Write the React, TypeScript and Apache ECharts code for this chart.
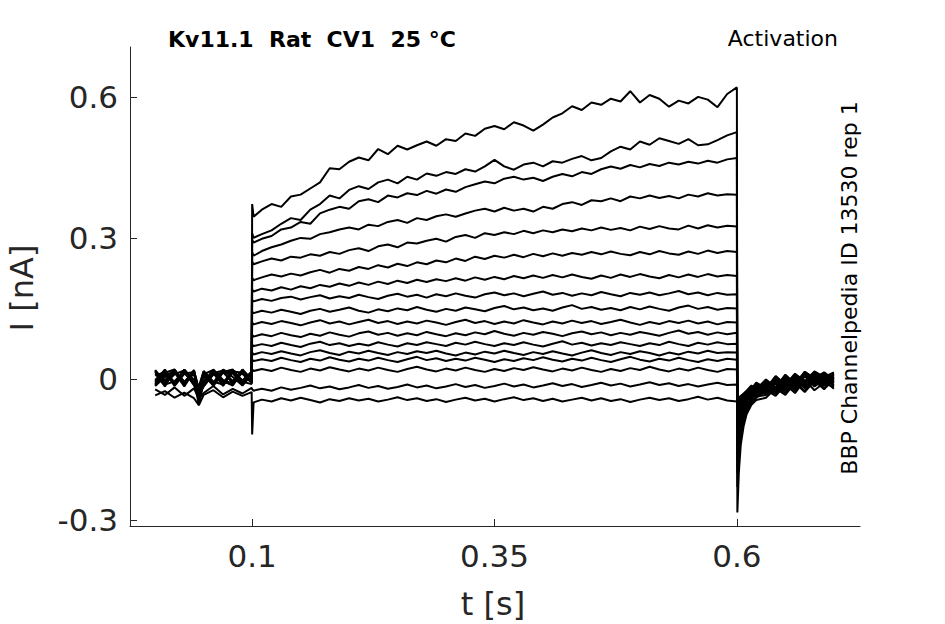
import React, { useEffect, useRef } from "react";
import * as echarts from "echarts";

// time bases (s)
const preTimes = [0, 0.01, 0.02, 0.03, 0.04, 0.045, 0.05, 0.06, 0.07, 0.08, 0.09, 0.0995];
const stepTimes = [0.1, 0.1015, 0.11, 0.12, 0.13, 0.14, 0.15, 0.16, 0.17, 0.18, 0.19, 0.2, 0.21, 0.22, 0.23, 0.24, 0.25, 0.26, 0.27, 0.28, 0.29, 0.3, 0.31, 0.32, 0.33, 0.34, 0.35, 0.36, 0.37, 0.38, 0.39, 0.4, 0.41, 0.42, 0.43, 0.44, 0.45, 0.46, 0.47, 0.48, 0.49, 0.5, 0.51, 0.52, 0.53, 0.54, 0.55, 0.56, 0.57, 0.58, 0.59, 0.6];
const tailTimes = [0.6005, 0.602, 0.604, 0.607, 0.61, 0.615, 0.62, 0.63, 0.64, 0.65, 0.66, 0.67, 0.68, 0.69, 0.7];

// currents (nA) before the step, one row per sweep
const preCurrents = [
  [0.015, -0.012, 0.018, -0.006, 0.012, -0.022, 0.01, 0.019, -0.01, 0.016, -0.004, 0.012],
  [-0.01, 0.016, -0.014, 0.02, -0.005, -0.032, -0.016, 0.012, 0.018, -0.011, 0.017, -0.006],
  [0.018, -0.006, 0.014, -0.016, 0.017, -0.02, 0.006, -0.013, 0.015, 0.02, -0.01, 0.013],
  [-0.004, 0.019, -0.008, 0.015, -0.013, -0.04, -0.012, 0.017, -0.006, -0.012, 0.019, -0.003],
  [0.012, -0.016, 0.019, -0.007, 0.013, -0.028, 0.015, -0.008, 0.02, 0.004, -0.014, 0.009],
  [-0.014, 0.011, -0.01, 0.02, -0.004, -0.024, -0.011, 0.014, -0.015, 0.017, 0.011, -0.009],
  [0.017, -0.003, 0.02, -0.012, 0.016, -0.045, -0.006, 0.018, -0.004, -0.014, 0.015, -0.002],
  [-0.006, 0.02, -0.013, 0.013, -0.01, -0.026, 0.013, -0.012, 0.017, -0.005, 0.018, -0.008],
  [-0.013, 0.008, 0.016, -0.008, 0.019, -0.034, -0.015, 0.009, 0.013, 0.019, -0.008, 0.012],
  [0.016, -0.01, 0.01, 0.018, -0.013, -0.016, 0.017, -0.006, -0.012, 0.014, -0.003, 0.016],
  [-0.002, 0.017, -0.015, 0.011, 0.015, -0.05, -0.003, 0.016, -0.009, 0.018, -0.006, -0.011],
  [-0.011, 0.013, 0.02, -0.011, 0.012, -0.03, -0.012, 0.02, -0.002, -0.01, 0.016, -0.005],
  [0.019, -0.012, -0.005, 0.016, -0.007, -0.02, 0.016, -0.01, 0.019, 0.012, -0.012, 0.014],
  [0.007, 0.015, -0.011, 0.019, -0.002, -0.055, -0.007, 0.012, -0.013, 0.016, 0.013, -0.007],
  [-0.015, 0.004, 0.014, -0.009, 0.018, -0.024, 0.011, -0.015, 0.014, -0.007, 0.02, -0.001],
  [-0.022, -0.034, -0.018, -0.036, -0.02, -0.042, -0.03, -0.015, -0.033, -0.021, -0.031, -0.019],
  [-0.035, -0.026, -0.04, -0.029, -0.041, -0.056, -0.034, -0.024, -0.039, -0.027, -0.036, -0.028],
];

// currents (nA) during the 0.1-0.6 s step
const stepCurrents = [
  [0.372, 0.345, 0.36, 0.372, 0.366, 0.388, 0.392, 0.405, 0.418, 0.448, 0.446, 0.462, 0.471, 0.465, 0.489, 0.478, 0.496, 0.488, 0.497, 0.505, 0.496, 0.51, 0.506, 0.522, 0.517, 0.532, 0.538, 0.531, 0.546, 0.539, 0.528, 0.541, 0.556, 0.565, 0.58, 0.572, 0.588, 0.583, 0.596, 0.59, 0.612, 0.588, 0.604, 0.596, 0.579, 0.592, 0.586, 0.6, 0.594, 0.578, 0.606, 0.62],
  [0.31, 0.3, 0.308, 0.316, 0.33, 0.342, 0.338, 0.36, 0.372, 0.39, 0.384, 0.402, 0.41, 0.404, 0.418, 0.424, 0.416, 0.43, 0.424, 0.437, 0.432, 0.44, 0.436, 0.446, 0.441, 0.452, 0.466, 0.452, 0.445, 0.456, 0.46, 0.452, 0.463, 0.46, 0.468, 0.474, 0.465, 0.47, 0.484, 0.494, 0.488, 0.505, 0.498, 0.512, 0.506, 0.5, 0.51, 0.497, 0.499, 0.508, 0.518, 0.525],
  [0.296, 0.29, 0.298, 0.304, 0.318, 0.322, 0.334, 0.33, 0.352, 0.36, 0.366, 0.362, 0.378, 0.382, 0.376, 0.39, 0.386, 0.395, 0.391, 0.4, 0.394, 0.403, 0.398, 0.408, 0.414, 0.42, 0.416, 0.426, 0.43, 0.424, 0.428, 0.421, 0.43, 0.436, 0.431, 0.44, 0.436, 0.446, 0.452, 0.447, 0.455, 0.45, 0.457, 0.453, 0.46, 0.456, 0.462, 0.458, 0.464, 0.46, 0.467, 0.47],
  [0.27, 0.262, 0.272, 0.28, 0.286, 0.294, 0.3, 0.298, 0.308, 0.312, 0.318, 0.322, 0.318, 0.328, 0.325, 0.334, 0.338, 0.332, 0.342, 0.338, 0.346, 0.35, 0.345, 0.352, 0.358, 0.362, 0.356, 0.364, 0.358, 0.362, 0.356, 0.366, 0.362, 0.372, 0.376, 0.37, 0.38, 0.378, 0.384, 0.378, 0.388, 0.384, 0.39, 0.385, 0.389, 0.384, 0.392, 0.388, 0.395, 0.39, 0.393, 0.392],
  [0.249, 0.244, 0.25, 0.256, 0.252, 0.26, 0.258, 0.265, 0.262, 0.27, 0.266, 0.274, 0.278, 0.272, 0.282, 0.286, 0.28, 0.29, 0.288, 0.294, 0.298, 0.292, 0.302, 0.306, 0.3, 0.31, 0.306, 0.312, 0.308, 0.315, 0.31, 0.316, 0.312, 0.318, 0.314, 0.32, 0.316, 0.322, 0.317, 0.321, 0.316, 0.324, 0.319, 0.325, 0.32, 0.318, 0.326, 0.32, 0.327, 0.322, 0.326, 0.324],
  [0.215, 0.21, 0.216, 0.222, 0.218, 0.224, 0.22, 0.227, 0.232, 0.226, 0.234, 0.23, 0.238, 0.234, 0.242, 0.237, 0.245, 0.24, 0.248, 0.244, 0.252, 0.248, 0.256, 0.251, 0.26, 0.255, 0.262, 0.258, 0.264, 0.259, 0.266, 0.261, 0.267, 0.262, 0.268, 0.264, 0.27, 0.265, 0.271, 0.266, 0.263, 0.27, 0.265, 0.272, 0.267, 0.264, 0.271, 0.266, 0.273, 0.268, 0.272, 0.27],
  [0.19, 0.186, 0.192, 0.188, 0.195, 0.19, 0.197, 0.193, 0.2, 0.196, 0.203, 0.198, 0.205, 0.2, 0.207, 0.202, 0.209, 0.204, 0.211, 0.206, 0.212, 0.208, 0.214, 0.209, 0.216, 0.211, 0.217, 0.212, 0.219, 0.214, 0.22, 0.215, 0.221, 0.216, 0.222, 0.217, 0.213, 0.22, 0.215, 0.222, 0.217, 0.223, 0.218, 0.214, 0.221, 0.216, 0.222, 0.217, 0.223, 0.218, 0.221, 0.219],
  [0.168, 0.165, 0.17, 0.166, 0.172, 0.175, 0.169, 0.174, 0.178, 0.171, 0.176, 0.172, 0.179, 0.174, 0.17, 0.177, 0.181, 0.175, 0.179, 0.173, 0.18, 0.176, 0.182, 0.177, 0.173, 0.18, 0.184, 0.178, 0.182, 0.176, 0.181, 0.186, 0.179, 0.183, 0.177, 0.182, 0.178, 0.185, 0.18, 0.176, 0.183, 0.179, 0.184, 0.178, 0.182, 0.187, 0.18, 0.184, 0.178, 0.183, 0.179, 0.18],
  [0.143, 0.14, 0.145, 0.141, 0.147, 0.143, 0.138, 0.145, 0.149, 0.143, 0.147, 0.152, 0.145, 0.141, 0.148, 0.144, 0.15, 0.146, 0.153, 0.147, 0.143, 0.149, 0.145, 0.152, 0.148, 0.144, 0.151, 0.155, 0.148, 0.152, 0.146, 0.15, 0.145, 0.152, 0.157, 0.149, 0.153, 0.147, 0.151, 0.146, 0.153, 0.148, 0.154, 0.149, 0.145, 0.152, 0.156, 0.149, 0.153, 0.147, 0.151, 0.15],
  [0.12, 0.116, 0.121, 0.117, 0.123, 0.119, 0.114, 0.12, 0.125, 0.118, 0.122, 0.116, 0.121, 0.126, 0.119, 0.123, 0.117, 0.122, 0.118, 0.124, 0.12, 0.115, 0.121, 0.126, 0.119, 0.123, 0.117, 0.122, 0.118, 0.125, 0.12, 0.116, 0.122, 0.118, 0.124, 0.119, 0.123, 0.117, 0.121, 0.126, 0.12, 0.115, 0.121, 0.117, 0.123, 0.119, 0.124, 0.118, 0.122, 0.116, 0.121, 0.12],
  [0.094, 0.09, 0.095, 0.091, 0.098, 0.093, 0.089, 0.096, 0.092, 0.099, 0.094, 0.09, 0.097, 0.101, 0.094, 0.098, 0.092, 0.097, 0.093, 0.1, 0.095, 0.091, 0.097, 0.093, 0.099, 0.095, 0.102, 0.096, 0.092, 0.098, 0.094, 0.1, 0.096, 0.091, 0.097, 0.101, 0.095, 0.099, 0.093, 0.098, 0.094, 0.1, 0.096, 0.092, 0.098, 0.103, 0.096, 0.1, 0.094, 0.099, 0.095, 0.098],
  [0.073, 0.07, 0.074, 0.07, 0.077, 0.072, 0.068, 0.075, 0.079, 0.072, 0.076, 0.07, 0.075, 0.071, 0.078, 0.073, 0.069, 0.076, 0.072, 0.078, 0.074, 0.07, 0.077, 0.073, 0.079, 0.074, 0.07, 0.076, 0.072, 0.078, 0.073, 0.069, 0.075, 0.08, 0.073, 0.077, 0.071, 0.076, 0.072, 0.078, 0.074, 0.07, 0.076, 0.072, 0.079, 0.074, 0.07, 0.077, 0.073, 0.078, 0.074, 0.075],
  [0.056, 0.052, 0.057, 0.053, 0.059, 0.054, 0.05, 0.057, 0.061, 0.055, 0.051, 0.058, 0.054, 0.06, 0.055, 0.051, 0.057, 0.053, 0.059, 0.055, 0.06, 0.054, 0.05, 0.056, 0.052, 0.058, 0.054, 0.06, 0.055, 0.051, 0.057, 0.053, 0.059, 0.054, 0.05, 0.056, 0.061, 0.055, 0.051, 0.057, 0.053, 0.059, 0.055, 0.05, 0.056, 0.052, 0.058, 0.054, 0.06, 0.055, 0.057, 0.056],
  [0.041, 0.038, 0.042, 0.038, 0.045, 0.04, 0.036, 0.043, 0.039, 0.046, 0.041, 0.037, 0.043, 0.039, 0.045, 0.04, 0.036, 0.042, 0.047, 0.04, 0.044, 0.038, 0.043, 0.039, 0.045, 0.041, 0.036, 0.042, 0.038, 0.044, 0.04, 0.046, 0.041, 0.037, 0.043, 0.039, 0.045, 0.04, 0.036, 0.042, 0.047, 0.041, 0.037, 0.043, 0.039, 0.045, 0.04, 0.036, 0.042, 0.038, 0.043, 0.041],
  [0.02, 0.017, 0.021, 0.017, 0.024, 0.019, 0.015, 0.022, 0.018, 0.025, 0.02, 0.016, 0.022, 0.018, 0.024, 0.019, 0.015, 0.021, 0.026, 0.02, 0.016, 0.022, 0.018, 0.024, 0.019, 0.015, 0.021, 0.017, 0.023, 0.019, 0.025, 0.02, 0.016, 0.022, 0.018, 0.024, 0.019, 0.015, 0.021, 0.017, 0.023, 0.019, 0.026, 0.02, 0.016, 0.022, 0.018, 0.024, 0.019, 0.015, 0.021, 0.02],
  [-0.022, -0.025, -0.021, -0.025, -0.018, -0.023, -0.019, -0.014, -0.02, -0.016, -0.022, -0.018, -0.013, -0.019, -0.015, -0.021, -0.017, -0.012, -0.018, -0.014, -0.02, -0.016, -0.011, -0.017, -0.013, -0.019, -0.015, -0.01, -0.016, -0.012, -0.018, -0.014, -0.009, -0.015, -0.011, -0.017, -0.013, -0.008, -0.014, -0.01, -0.016, -0.012, -0.007, -0.013, -0.009, -0.015, -0.011, -0.016, -0.012, -0.008, -0.013, -0.012],
  [-0.118, -0.05, -0.044, -0.048, -0.041, -0.046, -0.04, -0.045, -0.05, -0.043, -0.047, -0.041, -0.046, -0.042, -0.048, -0.044, -0.039, -0.045, -0.041, -0.047, -0.043, -0.049, -0.044, -0.04, -0.046, -0.042, -0.048, -0.043, -0.039, -0.045, -0.041, -0.047, -0.042, -0.048, -0.044, -0.04, -0.046, -0.041, -0.047, -0.043, -0.049, -0.044, -0.04, -0.045, -0.041, -0.047, -0.043, -0.038, -0.044, -0.04, -0.046, -0.048],
];

// tail currents (nA) after the step
const tailCurrents = [
  [-0.284, -0.2, -0.14, -0.1, -0.075, -0.055, -0.045, -0.04, -0.02, -0.034, -0.008, -0.028, -0.004, -0.022, 0.002],
  [-0.23, -0.17, -0.125, -0.09, -0.07, -0.05, -0.04, -0.024, -0.036, -0.012, -0.03, -0.002, -0.024, -0.008, -0.018],
  [-0.2, -0.155, -0.115, -0.085, -0.064, -0.047, -0.038, -0.034, -0.016, -0.03, -0.006, -0.026, 0.004, -0.02, -0.004],
  [-0.17, -0.14, -0.105, -0.078, -0.06, -0.043, -0.028, -0.02, -0.032, -0.008, -0.027, 0.006, -0.016, -0.002, -0.021],
  [-0.15, -0.125, -0.095, -0.07, -0.055, -0.04, -0.034, -0.03, -0.01, -0.026, -0.003, -0.02, 0.008, -0.015, 0.004],
  [-0.13, -0.112, -0.086, -0.064, -0.05, -0.03, -0.038, -0.016, -0.028, -0.004, -0.023, 0.01, -0.012, 0.003, -0.016],
  [-0.115, -0.1, -0.078, -0.058, -0.046, -0.038, -0.022, -0.033, -0.006, -0.024, 0.0, -0.017, 0.01, -0.011, 0.006],
  [-0.1, -0.088, -0.07, -0.053, -0.038, -0.03, -0.032, -0.012, -0.027, 0.001, -0.02, 0.012, -0.009, 0.007, -0.013],
  [-0.09, -0.078, -0.064, -0.05, -0.045, -0.034, -0.018, -0.03, -0.004, -0.02, 0.004, -0.014, 0.011, -0.006, 0.009],
  [-0.08, -0.07, -0.058, -0.046, -0.036, -0.024, -0.03, -0.008, -0.025, 0.004, -0.017, 0.013, -0.006, 0.01, -0.01],
  [-0.072, -0.064, -0.053, -0.043, -0.04, -0.03, -0.014, -0.028, 0.0, -0.018, 0.007, -0.012, 0.013, -0.004, 0.011],
  [-0.065, -0.058, -0.049, -0.04, -0.032, -0.02, -0.028, -0.006, -0.022, 0.006, -0.015, 0.014, -0.003, 0.012, -0.007],
  [-0.06, -0.053, -0.045, -0.038, -0.036, -0.027, -0.012, -0.025, 0.003, -0.016, 0.009, -0.01, 0.014, -0.001, 0.012],
  [-0.055, -0.049, -0.042, -0.036, -0.028, -0.017, -0.025, -0.003, -0.02, 0.008, -0.012, 0.015, 0.0, 0.013, -0.004],
  [-0.05, -0.045, -0.039, -0.034, -0.033, -0.024, -0.01, -0.022, 0.005, -0.014, 0.01, -0.007, 0.015, 0.002, 0.013],
  [-0.048, -0.043, -0.037, -0.031, -0.025, -0.014, -0.022, -0.001, -0.018, 0.009, -0.01, 0.015, 0.002, 0.014, -0.002],
  [-0.046, -0.041, -0.036, -0.033, -0.03, -0.021, -0.008, -0.02, 0.006, -0.012, 0.011, -0.005, 0.016, 0.004, 0.014],
];

const xTicks = [0.1, 0.35, 0.6];
const yTicks = [-0.3, 0, 0.3, 0.6];
const xTickLabels = ["0.1", "0.35", "0.6"];
const yTickLabels = ["-0.3", "0", "0.3", "0.6"];

const FONT = "DejaVu Sans";
const AXIS_COLOR = "#262626";

function zip(times: number[], values: number[]): number[][] {
  const n = Math.min(times.length, values.length);
  const out: number[][] = [];
  for (let i = 0; i < n; i++) out.push([times[i], values[i]]);
  return out;
}

export default function App() {
  const ref = useRef<HTMLDivElement>(null);

  useEffect(() => {
    if (!ref.current) return;
    const chart = echarts.init(ref.current, undefined, { renderer: "svg" });

    const series = stepCurrents.map((step, i) => ({
      type: "line",
      data: [
        ...zip(preTimes, preCurrents[i]),
        ...zip(stepTimes, step),
        ...zip(tailTimes, tailCurrents[i]),
      ],
      showSymbol: false,
      symbol: "none",
      silent: true,
      lineStyle: { color: "#000000", width: 2 },
      z: 2,
    }));

    chart.setOption({
      animation: false,
      backgroundColor: "#ffffff",
      grid: { left: 130, top: 47, right: 85, bottom: 98, containLabel: false },
      xAxis: {
        type: "value",
        min: -0.026,
        max: 0.727,
        axisLine: { show: true, onZero: false, lineStyle: { color: AXIS_COLOR, width: 1 } },
        axisTick: { show: true, inside: true, length: 7, customValues: xTicks, lineStyle: { color: AXIS_COLOR } },
        axisLabel: {
          show: true,
          customValues: xTicks,
          formatter: (v: number) => xTickLabels[xTicks.indexOf(v)] ?? String(v),
          fontSize: 31,
          fontFamily: FONT,
          color: AXIS_COLOR,
          margin: 14,
        },
        splitLine: { show: false },
      },
      yAxis: {
        type: "value",
        min: -0.3128,
        max: 0.706,
        axisLine: { show: true, onZero: false, lineStyle: { color: AXIS_COLOR, width: 1 } },
        axisTick: { show: true, inside: true, length: 7, customValues: yTicks, lineStyle: { color: AXIS_COLOR } },
        axisLabel: {
          show: true,
          customValues: yTicks,
          formatter: (v: number) => yTickLabels[yTicks.indexOf(v)] ?? String(v),
          fontSize: 31,
          fontFamily: FONT,
          color: AXIS_COLOR,
          margin: 12,
        },
        splitLine: { show: false },
      },
      graphic: [
        {
          type: "text",
          left: 168,
          top: 28,
          style: { text: "Kv11.1  Rat  CV1  25 °C", font: `bold 22px "${FONT}"`, fill: "#000000" },
        },
        {
          type: "text",
          right: 107,
          top: 27,
          style: { text: "Activation", font: `22px "${FONT}"`, fill: "#000000" },
        },
        {
          type: "text",
          x: 849,
          y: 288,
          rotation: Math.PI / 2,
          style: {
            text: "BBP Channelpedia ID 13530 rep 1",
            font: `22px "${FONT}"`,
            fill: "#000000",
            align: "center",
            verticalAlign: "middle",
          },
        },
        {
          type: "text",
          x: 22,
          y: 288,
          rotation: Math.PI / 2,
          style: {
            text: "I [nA]",
            font: `32px "${FONT}"`,
            fill: AXIS_COLOR,
            align: "center",
            verticalAlign: "middle",
          },
        },
        {
          type: "text",
          x: 493,
          y: 604,
          style: {
            text: "t [s]",
            font: `32px "${FONT}"`,
            fill: AXIS_COLOR,
            align: "center",
            verticalAlign: "middle",
          },
        },
      ],
      series,
    });

    return () => chart.dispose();
  }, []);

  return (
    <div
      ref={ref}
      style={{ position: "fixed", left: 0, top: 0, width: 945, height: 624, background: "#ffffff" }}
    />
  );
}
